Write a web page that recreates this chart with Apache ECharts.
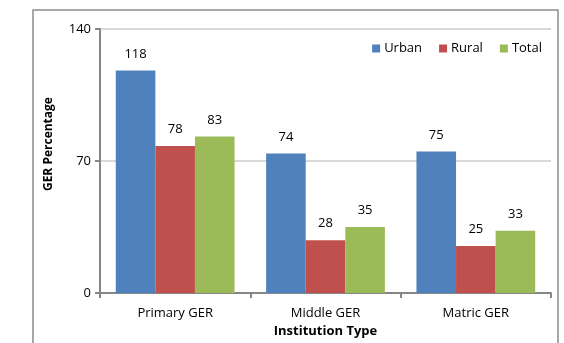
<!DOCTYPE html>
<html>
<head>
<meta charset="utf-8">
<script src="https://cdn.jsdelivr.net/npm/echarts@6/dist/echarts.min.js"></script>
<style>
  html, body { margin: 0; padding: 0; background: #fff; }
  #chart { width: 564px; height: 343px; }
</style>
</head>
<body>
<div id="chart"></div>
<script>
// 数据
const categories = ['Primary GER', 'Middle GER', 'Matric GER'];
const urban = [118, 74, 75];
const rural = [78, 28, 25];
const total = [83, 35, 33];
const yTicks = [0, 70, 140];

const FONT = 'Open Sans';

const chart = echarts.init(document.getElementById('chart'));

function barSeries(name, data, color) {
    return {
        name: name,
        type: 'bar',
        data: data,
        barGap: '0%',
        barCategoryGap: '21%',
        itemStyle: { color: color },
        label: {
            show: true,
            position: 'top',
            distance: 10,
            color: '#000',
            fontFamily: FONT,
            fontSize: 13
        }
    };
}

const option = {
    animation: false,
    graphic: [{
        // 外边框
        type: 'rect',
        shape: { x: 33, y: 10, width: 525, height: 360 },
        style: { fill: 'none', stroke: '#8c8c8c', lineWidth: 1.5 },
        silent: true
    }],
    legend: {
        data: ['Urban', 'Rural', 'Total'],
        top: 37,
        right: 17,
        icon: 'rect',
        itemWidth: 8,
        itemHeight: 8,
        itemGap: 17,
        textStyle: { fontFamily: FONT, fontSize: 13, color: '#000', padding: [0, 0, 0, -1] }
    },
    grid: {
        left: 100,
        right: 13,
        top: 29,
        bottom: 47
    },
    xAxis: {
        type: 'category',
        data: categories,
        name: 'Institution Type',
        nameLocation: 'middle',
        nameGap: 30,
        nameTextStyle: { fontFamily: FONT, fontSize: 13, fontWeight: 'bold', color: '#000' },
        axisLine: { lineStyle: { color: '#868686', width: 2 } },
        axisTick: { show: true, length: 5, lineStyle: { color: '#868686', width: 2 } },
        axisLabel: { fontFamily: FONT, fontSize: 13, color: '#000', margin: 14 }
    },
    yAxis: {
        type: 'value',
        min: yTicks[0],
        max: yTicks[yTicks.length - 1],
        interval: yTicks[1] - yTicks[0],
        name: 'GER Percentage',
        nameLocation: 'middle',
        nameGap: 45,
        nameTextStyle: {
            fontFamily: FONT, fontSize: 12, fontWeight: 'bold', color: '#000',
            padding: [0, 0, 0, 34]
        },
        axisLine: { show: true, lineStyle: { color: '#868686', width: 2 } },
        axisTick: { show: true, length: 5, lineStyle: { color: '#868686', width: 2 } },
        axisLabel: { fontFamily: FONT, fontSize: 13, color: '#000', margin: 9 },
        splitLine: { lineStyle: { color: '#d9d9d9', width: 2 } }
    },
    series: [
        barSeries('Urban', urban, '#4f81bd'),
        barSeries('Rural', rural, '#c0504d'),
        barSeries('Total', total, '#9bbb59')
    ]
};

chart.setOption(option);
</script>
</body>
</html>
